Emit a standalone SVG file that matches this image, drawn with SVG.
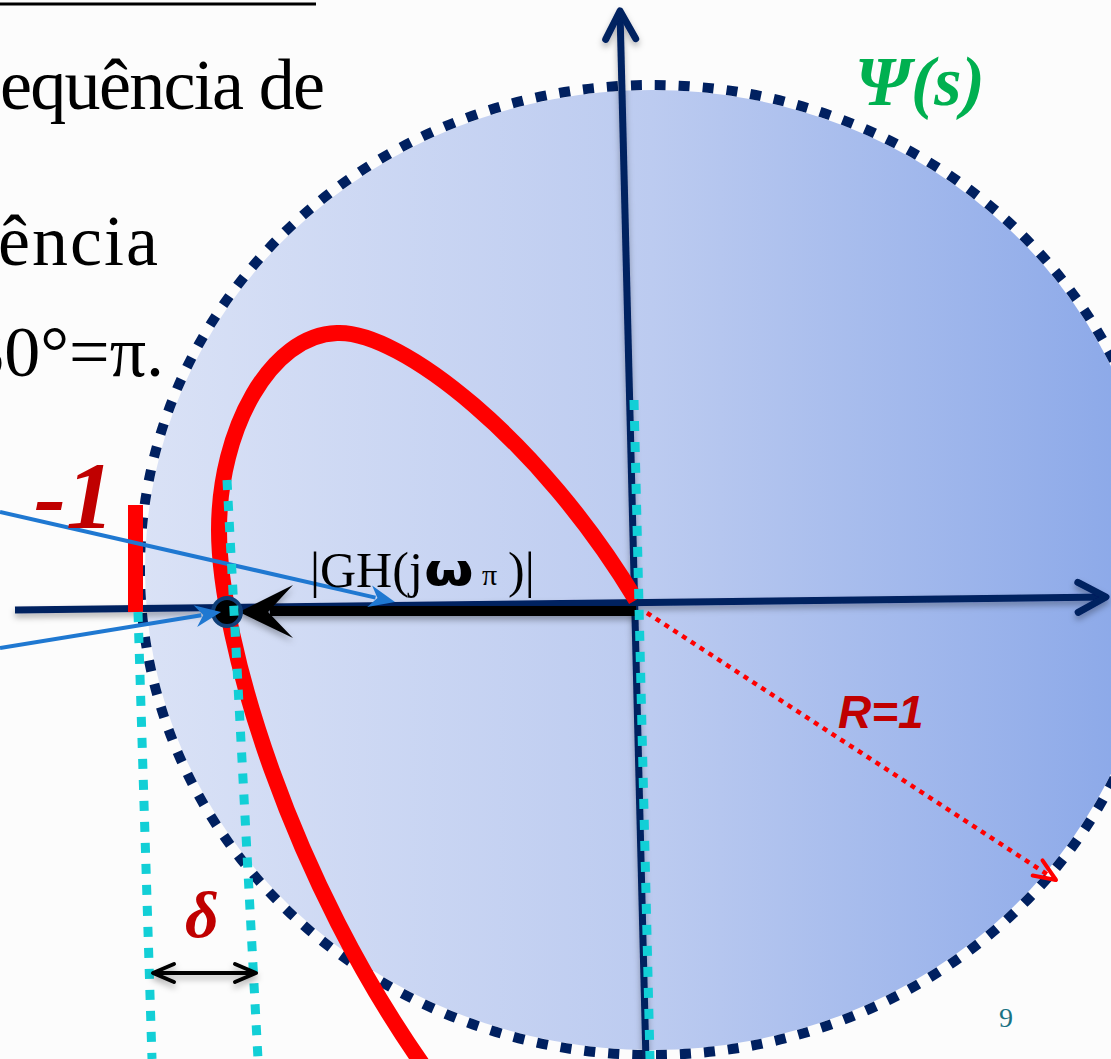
<svg xmlns="http://www.w3.org/2000/svg" width="1111" height="1059" viewBox="0 0 1111 1059">
  <defs>
    <linearGradient id="fillGrad" gradientUnits="userSpaceOnUse" x1="140" y1="0" x2="1164" y2="0">
      <stop offset="0" stop-color="#dae2f6"/>
      <stop offset="0.5" stop-color="#bccbf0"/>
      <stop offset="1" stop-color="#88a6e8"/>
    </linearGradient>
    <filter id="shadow" filterUnits="userSpaceOnUse" x="0" y="0" width="1111" height="1059">
      <feDropShadow dx="0" dy="4" stdDeviation="3" flood-color="#000" flood-opacity="0.3"/>
    </filter>
    <marker id="axisHead" markerUnits="userSpaceOnUse" viewBox="-36 -20 42 40" refX="0" refY="0" markerWidth="42" markerHeight="40" orient="auto" overflow="visible">
      <path d="M-28,-15 L0,0 L-28,15" fill="none" stroke="#002060" stroke-width="7" stroke-linecap="round" stroke-linejoin="round"/>
    </marker>
    <marker id="blueHead" markerUnits="userSpaceOnUse" viewBox="-10 -14 34 28" refX="0" refY="0" markerWidth="34" markerHeight="28" orient="auto" overflow="visible">
      <path d="M20,0 L-6,-11 L2,0 L-6,11 Z" fill="#1f78d1"/>
    </marker>
    <marker id="redHead" markerUnits="userSpaceOnUse" viewBox="-28 -14 34 28" refX="0" refY="0" markerWidth="34" markerHeight="28" orient="auto" overflow="visible">
      <path d="M-22,-9 L0,0 L-22,9" fill="none" stroke="#ff0000" stroke-width="4" stroke-dasharray="none" stroke-linecap="round" stroke-linejoin="round"/>
    </marker>
    <marker id="blackHead" markerUnits="userSpaceOnUse" viewBox="-26 -13 30 26" refX="0" refY="0" markerWidth="30" markerHeight="26" orient="auto-start-reverse" overflow="visible">
      <path d="M-21,-9 L0,0 L-21,9" fill="none" stroke="#000" stroke-width="4" stroke-linecap="round" stroke-linejoin="round"/>
    </marker>
  </defs>
  <style>
    .body { font-family: "Liberation Serif", "DejaVu Serif", serif; font-size: 72px; fill: #000; }
    .axis { stroke: #002060; stroke-width: 7; fill: none; }
    .cyan { stroke: #12cfd6; stroke-width: 9; stroke-dasharray: 10 11; fill: none; }
    .blue { stroke: #1f78d1; stroke-width: 4; fill: none; marker-end: url(#blueHead); }
    .darkred { fill: #c00000; }
  </style>

  <rect width="1111" height="1059" fill="#fcfcfc"/>

  <g id="header-text">
    <line x1="0" y1="4" x2="316" y2="4" stroke="#000" stroke-width="3"/>
    <text class="body" x="0" y="109" textLength="325" lengthAdjust="spacing">equência de</text>
    <text class="body" x="-2" y="265" textLength="160" lengthAdjust="spacing">ência</text>
    <text class="body" x="164" y="376" text-anchor="end">80°=π.</text>
  </g>

  <g id="psi-region">
    <ellipse cx="652" cy="570" rx="507" ry="480" fill="url(#fillGrad)"/>
    <ellipse cx="652" cy="570" rx="512" ry="485" fill="none" stroke="#002060" stroke-width="10" stroke-dasharray="11 13"/>
  </g>

  <g id="connectors">
    <g id="axes" filter="url(#shadow)">
      <line class="axis" x1="15" y1="610" x2="1106" y2="597" marker-end="url(#axisHead)"/>
      <line class="axis" x1="646" y1="1062" x2="620" y2="11" marker-end="url(#axisHead)"/>
    </g>
    <rect id="minus-one-tick" x="128" y="505" width="15" height="107" fill="#ff0000"/>
    <path id="nyquist-curve" d="M636,600 C540,440 400,330 337,333 C270,335 219,430 219,530 C219,640 290,880 430,1075" fill="none" stroke="#ff0000" stroke-width="16"/>
    <g id="gh-arrow" filter="url(#shadow)">
      <line x1="636" y1="611" x2="270" y2="611" stroke="#000" stroke-width="10"/>
      <path d="M239,612 L293,585 L268,612 L293,638 Z" fill="#000"/>
    </g>
    <circle id="crossing-point" cx="227" cy="612" r="14" fill="#000" stroke="#0f3f78" stroke-width="4"/>
    <line id="radius-arrow" x1="647" y1="613" x2="1056" y2="880" stroke="#ff0000" stroke-width="4.5" stroke-dasharray="5 5.5" marker-end="url(#redHead)"/>
    <line class="blue" x1="0" y1="512" x2="375.5" y2="597.6"/>
    <line class="blue" x1="0" y1="648" x2="201.3" y2="615.2"/>
    <line class="cyan" x1="634" y1="400" x2="650" y2="1059"/>
    <line class="cyan" x1="138" y1="612" x2="152" y2="1059"/>
    <line class="cyan" x1="227" y1="480" x2="258" y2="1059"/>
    <line id="delta-arrow" x1="153" y1="973" x2="256" y2="973" stroke="#000" stroke-width="4" marker-start="url(#blackHead)" marker-end="url(#blackHead)" filter="url(#shadow)"/>
  </g>

  <g id="labels">
    <text class="darkred" x="34" y="528" font-family="Liberation Serif, serif" font-size="96" font-weight="bold" font-style="italic">-1</text>
    <text x="310" y="587" font-family="Liberation Serif, serif" font-size="50" fill="#000">|GH(j</text>
    <text transform="translate(424,585) scale(1.3,1)" font-family="DejaVu Sans, sans-serif" font-weight="bold" font-size="44" fill="#000">ω</text>
    <text x="482" y="585" font-family="Liberation Serif, serif" font-size="30" fill="#000">π</text>
    <text x="508" y="587" font-family="Liberation Serif, serif" font-size="50" fill="#000">)|</text>
    <text x="855" y="105" font-family="Liberation Serif, serif" font-size="70" font-weight="bold" font-style="italic" fill="#00b050">Ψ(s)</text>
    <text class="darkred" x="838" y="728" font-family="Liberation Sans, sans-serif" font-size="46" font-weight="bold" font-style="italic">R=1</text>
    <text class="darkred" x="185" y="937" font-family="Liberation Serif, serif" font-size="66" font-weight="bold" font-style="italic">δ</text>
    <text x="999" y="1027" font-family="Liberation Serif, serif" font-size="28" fill="#1a7283">9</text>
  </g>
</svg>
